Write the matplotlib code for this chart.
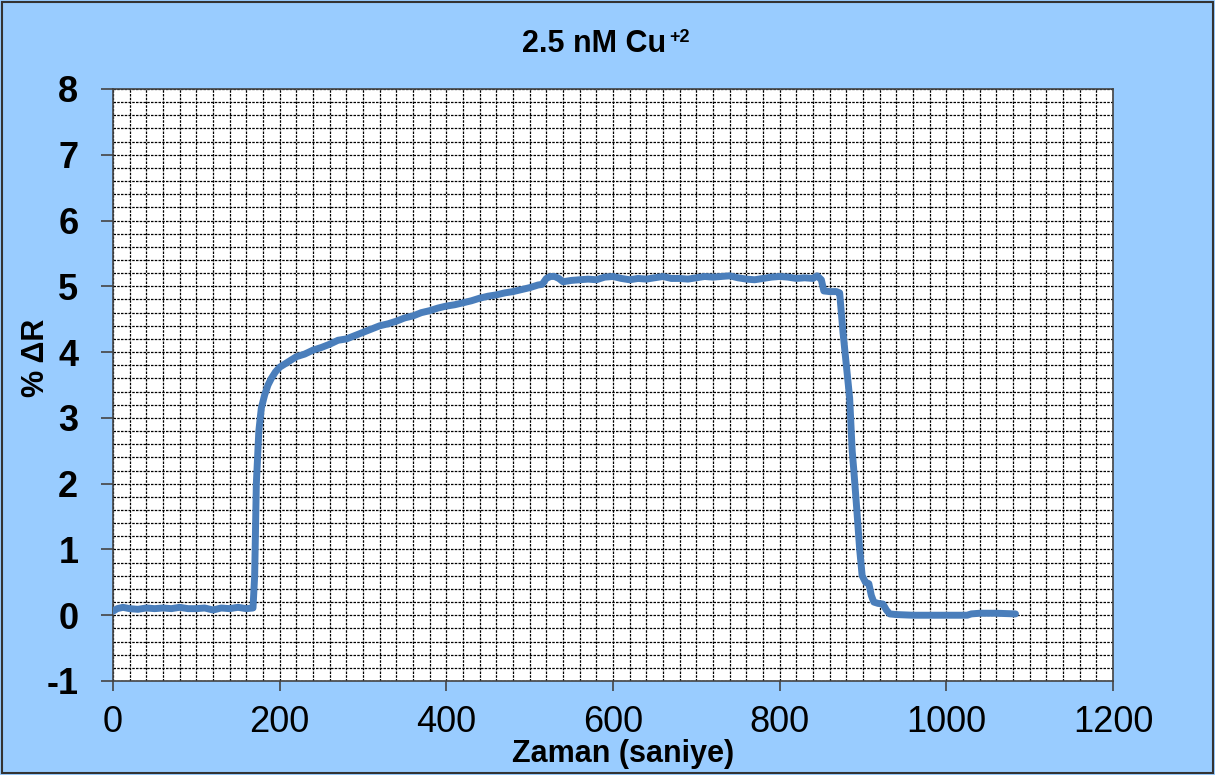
import matplotlib
matplotlib.use("Agg")
import matplotlib.pyplot as plt
from matplotlib.patches import Rectangle
from matplotlib.ticker import MultipleLocator

plt.rcParams['font.family'] = ['Liberation Sans', 'DejaVu Sans']
plt.rcParams['axes.unicode_minus'] = False

# zaman (s) ve % dR degerleri
zaman = [0, 5, 12, 20, 30, 40, 50, 60, 70, 80, 90, 100, 110, 120, 130, 140, 150, 160, 168,
         170, 172, 175, 178, 182, 186, 190, 195, 200, 210, 220, 230, 240, 250, 260, 270,
         280, 290, 300, 310, 320, 330, 340, 350, 360, 370, 380, 390, 400, 410, 420, 430,
         440, 450, 460, 470, 480, 490, 500, 510, 515, 520, 525, 530, 535, 540, 550, 560,
         570, 580, 590, 600, 610, 620, 630, 640, 650, 660, 670, 680, 690, 700, 710, 720,
         730, 740, 750, 760, 770, 780, 790, 800, 810, 820, 830, 840, 845, 850, 853, 860,
         868, 872, 876, 880, 884, 887, 889, 892, 896, 899, 903, 907, 910, 913, 918, 924,
         928, 932, 940, 960, 1000, 1025, 1030, 1040, 1060, 1083]
delta_r = [0.06, 0.1, 0.12, 0.1, 0.09, 0.11, 0.1, 0.11, 0.1, 0.12, 0.1, 0.1, 0.11, 0.08,
           0.11, 0.1, 0.12, 0.1, 0.11,
           0.6, 2.0, 2.8, 3.15, 3.35, 3.5, 3.6, 3.7, 3.77, 3.85, 3.93, 3.97, 4.03, 4.07,
           4.12, 4.18, 4.2, 4.25, 4.3, 4.35, 4.4, 4.43, 4.47, 4.52, 4.55, 4.6, 4.63, 4.67,
           4.7, 4.72, 4.75, 4.78, 4.82, 4.85, 4.87, 4.9, 4.92, 4.95, 4.98, 5.02, 5.03,
           5.12, 5.15, 5.15, 5.12, 5.07, 5.09, 5.1, 5.11, 5.1, 5.14, 5.15, 5.12, 5.1,
           5.12, 5.11, 5.13, 5.15, 5.12, 5.12, 5.11, 5.13, 5.15, 5.14, 5.15, 5.16, 5.13,
           5.11, 5.1, 5.12, 5.14, 5.15, 5.14, 5.12, 5.13, 5.12, 5.16, 5.1, 4.93, 4.92,
           4.92, 4.9, 4.3, 3.8, 3.3, 2.5, 2.2, 1.7, 1.0, 0.6, 0.5, 0.48, 0.3, 0.2, 0.18,
           0.17, 0.08, 0.02, 0.01, 0.0, 0.0, 0.0, 0.02, 0.03, 0.03, 0.02]

BG = "#99CCFF"
LINE = "#4A7EBB"
W, H = 1215, 775

fig = plt.figure(figsize=(W / 100, H / 100), dpi=100, facecolor=BG)
fig.patches.append(Rectangle((0.002, 0.002), 0.996, 0.996, transform=fig.transFigure,
                             fill=False, edgecolor="#333333", linewidth=1.5))
ax = fig.add_axes([113 / W, 94 / H, 1000 / W, 592 / H])
ax.set_facecolor("white")

ax.plot(zaman, delta_r, color=LINE, linewidth=5, solid_capstyle="round",
        solid_joinstyle="round", zorder=3)

ax.set_xlim(0, 1200)
ax.set_ylim(-1, 8)
ax.xaxis.set_major_locator(MultipleLocator(200))
ax.yaxis.set_major_locator(MultipleLocator(1))
ax.xaxis.set_minor_locator(MultipleLocator(20))
ax.yaxis.set_minor_locator(MultipleLocator(0.2))

ax.grid(which="both", color="black", linestyle=(0, (2, 1)), linewidth=0.9)
ax.tick_params(which="minor", length=0)
ax.tick_params(axis="y", which="major", length=9, width=1.2, direction="out",
               labelsize=26, pad=16, color="#444444")
ax.tick_params(axis="x", which="major", length=7, width=1.2, direction="out",
               labelsize=26, pad=10, color="#444444")
for lbl in ax.get_yticklabels():
    lbl.set_fontweight("bold")
for sp in ax.spines.values():
    sp.set_color("#444444")
    sp.set_linewidth(1.2)

# baslik: ust simge ayri yaziliyor
fig.text(522 / W, 1 - 52 / H, "2.5 nM Cu", ha="left", va="baseline",
         fontsize=22, fontweight="bold")
fig.text(669 / W, 1 - 42 / H, "+2", ha="left", va="baseline",
         fontsize=13, fontweight="bold")
fig.text(623 / W, 1 - 754 / H, "Zaman (saniye)", ha="center", va="center",
         fontsize=22, fontweight="bold")
fig.text(36 / W, 1 - 358 / H, "% ΔR", ha="center", va="center", rotation=90,
         fontsize=22, fontweight="bold")

fig.savefig("out.png", dpi=100, facecolor=BG)
